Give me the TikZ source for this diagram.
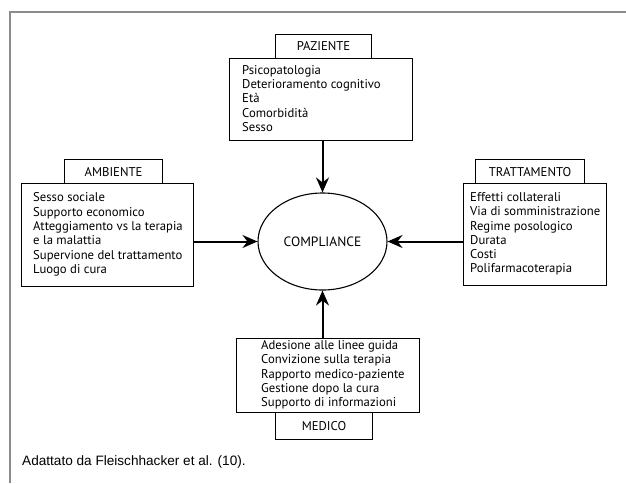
\documentclass[tikz,border=0pt]{standalone}
\usepackage{fontspec}
\setmainfont{PT Sans}
\newfontfamily\capfont{Liberation Sans}
\usetikzlibrary{arrows.meta,shapes.geometric}
\begin{document}
\begin{tikzpicture}[x=1pt,y=-1pt,
  boxc/.style={draw, line width=1.1pt, rectangle, anchor=north west, inner sep=0pt},
  txt/.style={anchor=west, align=left, inner sep=0pt, font=\fontsize{12.7}{14.3}\selectfont},
  lbltxt/.style={font=\fontsize{12.7}{14}\selectfont},
  arr/.style={line width=2pt, -{Stealth[length=15pt,width=13pt,inset=5pt]}},
  frame/.style={draw=black!45, line width=2pt}
  ]
\useasboundingbox (0,0) rectangle (626,483);
\draw[frame] (10,483) -- (10,12) -- (626,12);

% PAZIENTE
\node[boxc, minimum width=96pt, minimum height=24pt] (pzl) at (275,34) {};
\node[lbltxt] (pzlt) at (pzl.center) {PAZIENTE};
\node[boxc, minimum width=183pt, minimum height=82pt] (pz) at (229,58) {};
\node[txt] (pzt) at (242,98.5) {Psicopatologia\\Deterioramento cognitivo\\Età\\Comorbidità\\Sesso};

% AMBIENTE
\node[boxc, minimum width=98pt, minimum height=24pt] (aml) at (64,159) {};
\node[lbltxt] (amlt) at (aml.center) {AMBIENTE};
\node[boxc, minimum width=172pt, minimum height=103pt] (am) at (21,183) {};
\node[txt] (amt) at (33,234.5) {Sesso sociale\\Supporto economico\\Atteggiamento vs la terapia\\e la malattia\\Supervione del trattamento\\Luogo di cura};

% TRATTAMENTO
\node[boxc, minimum width=109pt, minimum height=24pt] (trl) at (475,159) {};
\node[lbltxt] (trlt) at (trl.center) {TRATTAMENTO};
\node[boxc, minimum width=143pt, minimum height=102pt] (tr) at (463,183) {};
\node[txt] (trt) at (470,234) {Effetti collaterali\\Via di somministrazione\\Regime posologico\\Durata\\Costi\\Polifarmacoterapia};

% MEDICO
\node[boxc, minimum width=183pt, minimum height=74pt] (md) at (236,338) {};
\node[txt] (mdt) at (261,375) {Adesione alle linee guida\\Convizione sulla terapia\\Rapporto medico-paziente\\Gestione dopo la cura\\Supporto di informazioni};
\node[boxc, minimum width=97pt, minimum height=27pt] (mdl) at (275,412) {};
\node[lbltxt] (mdlt) at (mdl.center) {MEDICO};

% COMPLIANCE
\node[draw, ellipse, line width=1.1pt, minimum width=129pt, minimum height=97pt, inner sep=0pt, font=\fontsize{13.5}{15}\selectfont] (co) at (322.5,241.5) {COMPLIANCE};

% arrows
\draw[arr] (pz.south -| co.north) -- (co.north);
\draw[arr] (am.east |- co.west) -- (co.west);
\draw[arr] (tr.west |- co.east) -- (co.east);
\draw[arr] (md.north -| co.south) -- (co.south);

% caption
\node[anchor=base west, inner sep=0pt, font=\capfont\fontsize{13.6}{15}\selectfont] (cap) at (22,465) {Adattato da Fleischhacker et al. (10).};
\end{tikzpicture}
\end{document}
